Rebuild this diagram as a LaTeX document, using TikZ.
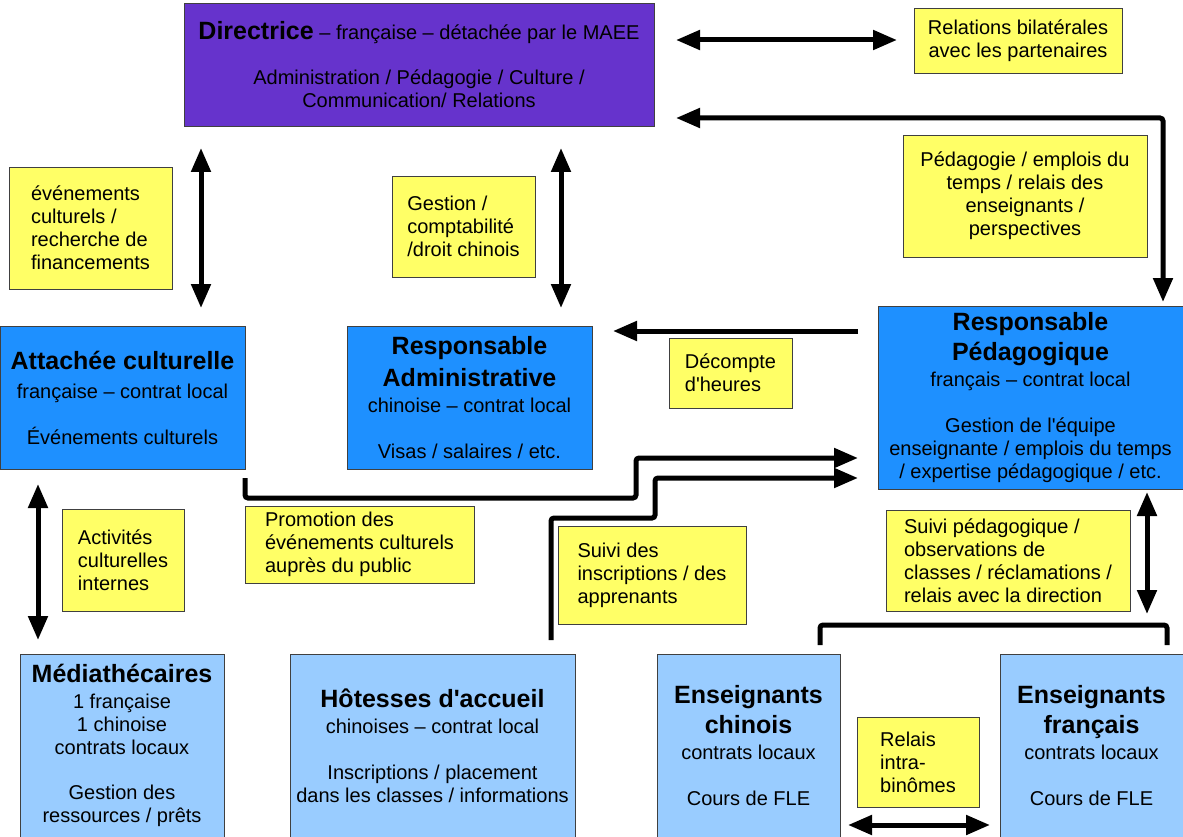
\documentclass[tikz,border=0pt]{standalone}
\usepackage{fontspec}
\setmainfont{Liberation Sans}[Ligatures=TeXOff]
\usetikzlibrary{arrows.meta}
\definecolor{purp}{RGB}{102,51,204}
\definecolor{blu}{RGB}{30,144,255}
\definecolor{lblu}{RGB}{153,204,255}
\definecolor{yel}{RGB}{255,255,102}
\newcommand{\bigt}{\fontsize{25}{29}\selectfont\bfseries}
\tikzset{
  box/.style={draw=black!75, line width=0.8pt, inner sep=0pt, align=center, font=\fontsize{20}{23}\selectfont},
  purpbox/.style={box, fill=purp},
  blubox/.style={box, fill=blu},
  lblubox/.style={box, fill=lblu},
  yelbox/.style={box, fill=yel, align=left},
  yelcbox/.style={box, fill=yel, align=center},
  tip/.tip={Triangle[length=24pt,width=19pt]},
  arr/.style={line width=5pt, rounded corners=3pt, -tip},
  darr/.style={line width=5pt, rounded corners=3pt, tip-tip},
  bar/.style={line width=5pt, rounded corners=3pt}
}
\begin{document}
\begin{tikzpicture}[x=1pt,y=-1pt]
\fill[white] (0,0) rectangle (1183,837);
\useasboundingbox (0,0) rectangle (1183,837);

% main boxes
\node[purpbox, minimum width=470pt, minimum height=123pt] (dir) at (419,64.5)
  {{\bigt Directrice} – française – détachée par le MAEE\\[22pt]
   Administration / Pédagogie / Culture /\\ Communication/ Relations};
\node[blubox, minimum width=245pt, minimum height=143pt] (att) at (122.5,397.5)
  {{\bigt Attachée culturelle}\\[6pt] française – contrat local\\[23pt] Événements culturels};
\node[blubox, minimum width=245pt, minimum height=143pt] (adm) at (469.5,397.5)
  {{\bigt Responsable}\\[7pt]{\bigt Administrative}\\[3pt] chinoise – contrat local\\[23pt] Visas / salaires / etc.};
\node[blubox, minimum width=305pt, minimum height=183pt] (rp) at (1030.5,397.5)
  {{\bigt Responsable}\\[6pt]{\bigt Pédagogique}\\[3pt] français – contrat local\\[23pt]
   Gestion de l'équipe\\ enseignante / emplois du temps\\ / expertise pédagogique / etc.};
\node[lblubox, minimum width=204pt, minimum height=183pt] (med) at (122,745.5)
  {{\bigt Médiathécaires}\\[3pt] 1 française\\ 1 chinoise\\ contrats locaux\\[22pt] Gestion des\\ ressources / prêts};
\node[lblubox, minimum width=285pt, minimum height=183pt] (hot) at (432.5,745.5)
  {{\bigt Hôtesses d'accueil}\\[3pt] chinoises – contrat local\\[23pt] Inscriptions / placement\\ dans les classes / informations};
\node[lblubox, minimum width=183pt, minimum height=183pt] (ech) at (748.5,745.5)
  {{\bigt Enseignants}\\[6pt]{\bigt chinois}\\[3pt] contrats locaux\\[23pt] Cours de FLE};
\node[lblubox, minimum width=183pt, minimum height=183pt] (efr) at (1091.5,745.5)
  {{\bigt Enseignants}\\[6pt]{\bigt français}\\[3pt] contrats locaux\\[23pt] Cours de FLE};

% yellow label boxes
\node[yelcbox, minimum width=208pt, minimum height=65pt] (rel) at (1018,40.5)
  {Relations bilatérales\\ avec les partenaires};
\node[yelcbox, minimum width=244pt, minimum height=122pt] (ped) at (1025,196)
  {Pédagogie / emplois du\\ temps / relais des\\ enseignants /\\ perspectives};
\node[yelbox, minimum width=163pt, minimum height=122pt] (evt) at (90.5,228)
  {événements\\ culturels /\\ recherche de\\ financements};
\node[yelbox, minimum width=143pt, minimum height=101pt] (gest) at (463.5,226.5)
  {Gestion /\\ comptabilité\\ /droit chinois};
\node[yelbox, minimum width=123pt, minimum height=70pt] (dec) at (730.5,373)
  {Décompte\\ d'heures};
\node[yelbox, minimum width=229pt, minimum height=77pt] (promo) at (359.5,544.5)
  {Promotion des\\ événements culturels\\ auprès du public};
\node[yelbox, minimum width=188pt, minimum height=98pt] (suiv) at (652,575)
  {Suivi des\\ inscriptions / des\\ apprenants};
\node[yelbox, minimum width=122pt, minimum height=102pt] (act) at (123,560)
  {Activités\\ culturelles\\ internes};
\node[yelbox, minimum width=244pt, minimum height=101pt] (spd) at (1008,560.5)
  {Suivi pédagogique /\\ observations de\\ classes / réclamations /\\ relais avec la direction};
\node[yelbox, minimum width=122pt, minimum height=90pt] (relais) at (918,762)
  {Relais\\ intra-\\ binômes};

% connector end points
\coordinate (t1) at (676,40);   \coordinate (t2) at (897,40);
\coordinate (r1) at (676,118);  \coordinate (r2) at (1163,118); \coordinate (r3) at (1163,302);
\coordinate (v1a) at (201,148); \coordinate (v1b) at (201,308);
\coordinate (v2a) at (561,148); \coordinate (v2b) at (561,308);
\coordinate (d1) at (858,331);  \coordinate (d2) at (613,331);
\coordinate (p1) at (245,478);  \coordinate (p2) at (858,458);
\coordinate (s1) at (551,640);  \coordinate (s2) at (858,478);
\coordinate (v3a) at (38,484);  \coordinate (v3b) at (38,640);
\coordinate (v4a) at (1147,492);\coordinate (v4b) at (1147,614);
\coordinate (b1) at (820,645);  \coordinate (b2) at (1167,645);
\coordinate (h1) at (848,825);  \coordinate (h2) at (990,825);

% connectors
\draw[darr] (t1) -- (t2);
\draw[darr] (r1) -- (r2) -- (r3);
\draw[darr] (v1a) -- (v1b);
\draw[darr] (v2a) -- (v2b);
\draw[arr] (d1) -- (d2);
\draw[arr] (p1) -- (245,498) -- (636,498) -- (636,458) -- (p2);
\draw[arr] (s1) -- (551,518) -- (655,518) -- (655,478) -- (s2);
\draw[darr] (v3a) -- (v3b);
\draw[darr] (v4a) -- (v4b);
\draw[bar] (b1) -- (820,625) -- (1167,625) -- (b2);
\draw[darr] (h1) -- (h2);
\end{tikzpicture}
\end{document}
